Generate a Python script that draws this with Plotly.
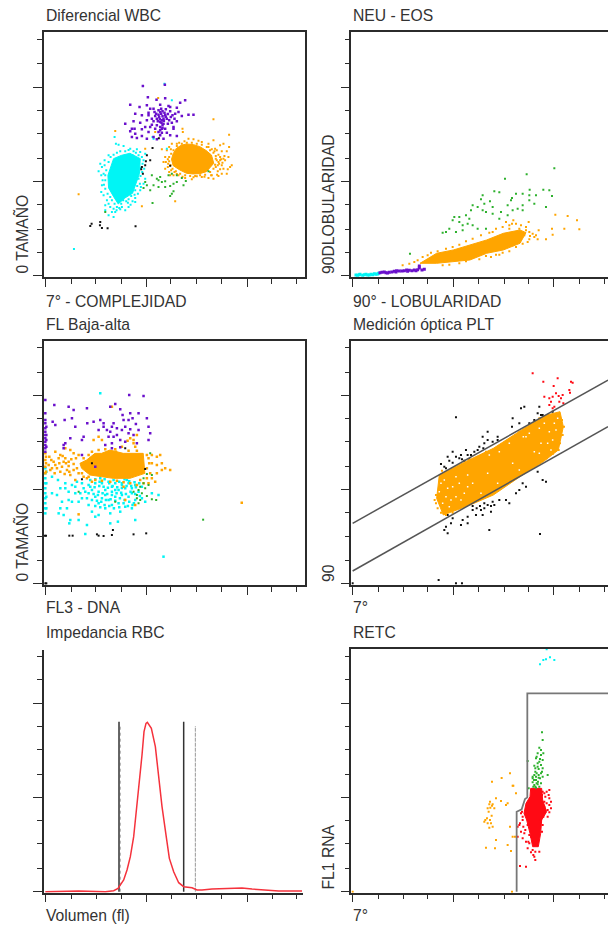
import plotly.graph_objects as go

ORANGE, CYAN, PURPLE, GREEN, RED, BLACK = "#FFA500", "#00F5F5", "#6A10CC", "#2DB02D", "#FF0A14", "#111111"
AXIS = "#2b2b2b"

# tick positions, in channel units
X_TICKS_L = [0, 78, 152, 229, 303, 377, 454, 529, 607, 680, 754]
X_TICKS_R = [0, 79, 152, 225, 304, 377, 455, 529, 602, 680, 754]
X_LONG_L = [0, 303, 607]
X_LONG_R = [0, 304, 602]
Y_TICKS_A = [0, 69, 138, 213, 282, 351, 425, 494, 564, 634, 707]
Y_LONG_A = [0, 282, 564]
Y_TICKS_B = [0, 70, 140, 213, 283, 352, 425, 495, 565, 634, 707]
Y_LONG_B = [0, 283, 565]
Y_TICKS_C = [0, 70, 145, 214, 283, 353, 427, 496, 565, 638, 707]
Y_LONG_C = [0, 283, 565]

# --- Diferencial WBC ---
WBC_ORANGE_CORE = [(379,348),(384,365),(394,381),(408,390),(424,394),(445,392),(464,386),(482,375),(499,361),(506,336),(484,311),(464,305),(444,304),(424,306),(404,316),(384,329)]
WBC_ORANGE = [(505,468),(412,440),(413,430),(100,243),(339,532),(210,433),(330,430),(552,422),(510,380),(525,390),(490,395),(470,400),(445,408),(430,410),
 (372,385),(365,375),(350,378),(380,395),(395,395),(360,355),(355,340),(368,325),(372,310),(385,300),(400,300),(420,292),(440,288),(455,297),(470,295),(490,292),(505,290),(520,298),(500,300),
 (512,350),(520,340),(525,355),(530,330),(540,345),(550,355),(535,320),(548,318),(555,325),(512,325),(518,312),(530,305),(545,305),(560,330),(545,372),(530,372),(515,375),(552,385),(535,395),(505,405),(390,222),(300,380),(290,207),(235,275),
 (372,355),(378,365),(385,375),(395,388),(410,395),(425,398),(440,398),(455,395),(470,392),(485,385),(495,375),(505,368),(512,358),(515,345),(510,332),(505,320),(495,310),(480,302),(465,300),(450,298),(435,298),(420,300),(405,305),(392,312),(382,320),(376,330),(372,342),(368,348),(520,362),(528,348),(522,335),(532,338),(538,358),(516,302),(525,318),(375,300),(362,340),(360,320),(395,304),(415,385),(500,378),(508,372),(518,330),(525,345),(535,350),(498,300),(478,296),(445,294),(412,296),(388,310),(378,315),(369,335),(377,378),(402,398),(418,402),(460,404),(490,385)]
WBC_CYAN_CORE = [(254,366),(285,350),(283,306),(262,246),(239,232),(219,214),(205,236),(190,262),(188,300),(205,350),(229,360)]
WBC_CYAN = [(86,79),(208,415),(212,395),(220,392),(235,388),(255,380),(275,378),(285,370),(190,360),(178,345),(170,325),(160,312),(168,300),(172,285),(170,270),(168,250),(175,240),(185,225),(180,210),(195,205),(205,200),(210,190),(205,175),(190,180),(180,195),(230,205),(240,195),(250,205),(262,222),(270,232),(285,255),(295,275),(300,290),(297,320),(295,345),(300,365),(265,372),(358,575),(380,525),(365,380),(325,410),(322,415),
 (180,300),(183,315),(178,330),(190,340),(196,355),(205,362),(215,368),(225,372),(240,372),(250,376),(262,360),(272,368),(280,360),(290,355),(292,335),(287,322),(291,310),(286,298),(280,290),(284,275),(276,268),(270,255),(268,242),(258,238),(250,228),(243,222),(234,225),(228,215),(222,202),(215,205),(208,215),(200,225),(195,235),(187,245),(180,260),(176,272),(180,285),(175,305),(165,335),(190,215),(200,190),(214,195),(225,198),(278,245),(287,265),(248,218),(256,212),(270,220)]
WBC_PURPLE = [(293,568),(359,572),(308,534),(334,527),(360,531),(420,525),(255,512),(283,505),(305,510),(325,500),(345,512),(370,508),(395,503),(405,518),(270,485),(290,480),(310,488),(330,478),(345,490),(360,480),(375,492),(390,485),(410,478),(430,482),(445,482),(240,455),(265,462),(285,458),(305,465),(320,452),(335,470),(350,465),(365,470),(380,458),(395,462),(345,445),(355,455),(330,440),(310,430),(290,438),(270,425),(255,432),(305,410),(325,415),(345,420),(365,428),(385,440),(352,477),(345,460),(355,470),(340,482),(362,498),(375,505),(348,500),(340,495),(320,470),(300,445),(260,440),(275,412),(290,418),(335,408),(355,410),(375,420),(395,418),(350,440),(335,450),(342,475),(352,450),(348,485),(328,490),(368,455),(377,475),(388,470),(400,490),(260,415),(268,440),(315,500),(310,480),(385,445),(360,440),(340,430),(350,428),
 (344,468),(349,458),(356,464),(362,476),(338,462),(333,485),(352,492),(358,488),(368,484),(325,462),(315,445),(345,435),(352,442),(382,480),(372,465)]
WBC_GREEN = [(325,270),(335,290),(345,295),(360,282),(370,300),(380,305),(395,300),(410,292),(395,280),(385,275),(375,268),(360,265),(350,280),(340,285),(320,300),(305,270),(295,262),(315,255),(300,280),(340,265),(380,245),(375,238),(385,252),(322,217),(422,283),(415,270),(180,190),(490,312)]
WBC_BLACK = [(139,155),(135,148),(165,160),(164,150),(170,142),(187,141),(271,147),(305,360),(302,342),(300,330),(290,325),(288,318),(293,305),(315,345),(322,382),(341,411),(375,329)]

# --- NEU - EOS ---
NEU_ORANGE_CORE = [(202,36),(252,66),(302,76),(352,91),(402,106),(452,126),(502,136),(520,128),(502,96),(452,76),(402,66),(352,46),(302,41),(252,36)]
NEU_ORANGE = [(150,30),(170,35),(185,40),(210,55),(235,68),(255,72),(280,80),(300,85),(320,92),(340,102),(360,110),(385,120),(410,128),(430,140),(450,145),(470,150),(490,155),(505,150),(520,145),(530,130),(545,115),(555,108),(530,108),(510,95),(480,90),(450,68),(430,62),(400,58),(380,48),(340,42),(500,140),(515,120),(520,135),(540,125),(558,135),(550,120),(580,108),(600,122),(598,140),(608,182),(645,178),(673,165),(680,138),(635,140),(478,155),(470,140),(482,165),(528,160),(460,160),(420,130),(490,85),(470,72),(440,62),(415,55),(320,36),(290,32),(270,30),(195,45),(225,60),(500,128),(532,118),(525,100)]
NEU_GREEN = [(605,321),(522,303),(457,290),(531,257),(572,257),(425,252),(440,249),(390,240),(412,222),(385,228),(395,215),(360,210),(375,205),(400,190),(420,205),(445,190),(465,180),(480,195),(495,200),(510,210),(530,225),(545,215),(475,225),(490,245),(510,245),(530,240),(550,240),(590,255),(598,238),(580,205),(320,175),(340,180),(350,170),(320,160),(330,150),(300,165),(290,140),(280,130),(270,128),(310,130),(330,135),(345,155),(360,150),(375,140),(400,140),(305,175),(355,195),(390,195),(172,65),(420,185),(465,210),(478,232),(510,195),(440,170)]
NEU_CYAN = [(10,1),(20,2),(30,0),(40,3),(50,1),(60,2),(70,3),(78,6),(22,3),(15,0),(35,2),(45,1),(55,3),(65,5),(75,4)]
NEU_PURPLE = [(82,8),(95,10),(110,9),(125,12),(140,13),(155,14),(170,15),(185,16),(200,22),(215,18),(165,12),(130,10),(105,7),(190,14),(200,28),(88,9),(100,8),(118,10),(132,14),(148,13),(162,16),(178,14),(195,17),(208,16)]

# --- FL Baja-alta ---
FL_ORANGE_CORE = [(104,360),(124,370),(149,390),(169,390),(194,400),(234,390),(294,390),(299,330),(254,315),(204,315),(169,320),(134,325),(109,345)]
FL_ORANGE = [(0,390),(0,370),(0,350),(2,380),(2,360),(2,335),(0,330),(30,395),(45,385),(60,375),(70,365),(85,390),(100,385),(20,345),(35,345),(50,350),(65,340),(75,325),(90,310),(110,330),(130,320),(150,310),(310,375),(320,360),(335,355),(350,340),(335,330),(320,315),(330,305),(310,300),(285,310),(240,250),(270,235),(235,290),(100,207),(200,530),(247,428),(255,435),(265,430),(275,445),(270,410),(265,420),(212,395),(160,440),(590,242),(60,405),(75,400),(145,430),(170,430),(230,410),
 (12,380),(18,370),(25,365),(40,375),(52,382),(62,360),(78,372),(92,375),(10,355),(30,355),(42,360),(55,365),(70,352),(85,358),(95,345),(15,340),(28,330),(45,335),(58,328),(72,335),(85,340),(100,330),(115,320),(125,315),(140,305),(170,308),(195,305),(215,308),(235,303),(255,300),(275,295),(295,300),(305,315),(315,330),(305,345),(312,360),(305,385),(320,385),(335,380),(345,385),(350,360),(360,345),(375,340),(115,375),(130,385),(140,395),(160,400),(180,402),(210,402),(250,398),(275,398)]
FL_CYAN = [(0,345),(0,330),(0,315),(0,300),(0,285),(0,270),(0,255),(0,240),(0,225),(0,210),(3,335),(3,300),(3,260),(3,225),(20,320),(38,310),(60,300),(45,285),(70,275),(90,290),(110,300),(130,295),(150,300),(170,300),(190,305),(210,300),(230,295),(250,300),(270,295),(290,290),(120,275),(140,280),(160,275),(180,280),(200,275),(220,280),(240,285),(260,270),(280,275),(150,260),(170,255),(190,250),(210,260),(230,265),(250,260),(270,250),(290,255),(125,255),(90,270),(70,250),(50,245),(80,245),(100,245),(130,235),(160,240),(180,225),(200,235),(220,240),(240,230),(260,225),(225,215),(195,210),(160,205),(140,215),(75,190),(100,190),(125,175),(40,210),(55,205),(195,180),(150,200),(270,190),(218,185),(355,80),(165,570),(320,270),(340,265),(300,245),(210,280),(230,300),(180,265),(200,290),(245,310),(165,315),(260,285),(120,148),(72,180),
 (135,310),(150,312),(163,305),(178,312),(192,300),(205,310),(222,305),(238,312),(252,306),(268,303),(282,300),(135,290),(148,288),(162,292),(175,290),(188,287),(202,292),(216,288),(230,286),(244,292),(258,292),(272,288),(130,270),(145,268),(158,265),(172,270),(186,268),(200,265),(214,270),(228,272),(242,268),(256,275),(270,268),(284,262),(140,250),(155,248),(168,245),(182,250),(196,252),(210,248),(224,255),(238,250),(252,245),(266,240),(150,232),(165,228),(178,235),(192,232),(206,225),(222,228),(235,240),(248,232),(262,235),(105,270),(110,255),(115,285),(95,305),(80,295),(60,285),(35,265),(20,270),(45,225),(65,225)]
FL_PURPLE = [(0,550),(0,510),(0,490),(0,480),(0,465),(0,455),(0,445),(0,435),(0,425),(0,415),(0,405),(0,395),(3,470),(3,445),(3,430),(3,410),(252,565),(295,562),(27,535),(70,530),(85,520),(125,525),(80,495),(58,490),(22,485),(30,475),(90,470),(126,480),(145,485),(110,430),(75,435),(115,440),(55,415),(180,415),(165,490),(175,480),(160,460),(195,530),(210,538),(225,522),(232,505),(255,510),(262,495),(280,510),(250,490),(235,490),(205,480),(200,470),(185,460),(175,470),(195,455),(215,465),(230,460),(215,445),(240,470),(255,462),(280,460),(272,478),(265,445),(250,450),(225,430),(205,440),(200,420),(190,440),(240,425),(275,420),(310,470),(315,450),(310,430),(305,495),(200,405),(225,408),(60,420),(150,350),(110,385),(55,405)]
FL_GREEN = [(315,390),(305,328),(295,300),(300,285),(290,270),(275,255),(265,275),(285,250),(280,240),(320,252),(333,250),(210,245),(474,191),(100,275),(320,325),(310,295),(280,280),(295,315),(285,290),(275,265),(305,262)]
FL_BLACK = [(0,0),(3,0),(-2,143),(2,143),(72,143),(82,143),(155,147),(160,143),(175,142),(200,145),(203,160),(265,147),(303,150),(140,360),(110,312),(300,343),(240,405)]

# --- Medición óptica PLT ---
PLT_UPPER_X, PLT_UPPER_Y = [0, 766], [180, 610]
PLT_LOWER_X, PLT_LOWER_Y = [0, 766], [37, 470]
PLT_ORANGE_CORE = [(260,325),(332,362),(422,405),(522,470),(582,505),(622,515),(632,470),(617,400),(572,365),(502,320),(422,265),(352,235),(272,205),(252,255)]
PLT_GAPS = [(265,300),(280,260),(290,230),(275,310),(300,290),(310,260),(295,250),(320,300),(335,270),(345,325),(345,290),(360,300),(410,385),(405,330),(440,395),(385,270),(470,420),(512,440),(530,450),(560,465),(575,480),(590,455),(600,430),(585,420),(610,460),(615,495),(565,420),(545,395),(520,440),(270,240),(285,285),(260,275),(325,250),(310,320),(435,300),(480,360),(500,340),(560,390),(595,400),(605,480)]
PLT_ORANGE = [(262,325),(268,338),(250,265),(246,250),(250,240),(255,225),(265,212),(280,205),(300,212),(320,225),(352,240),(620,505),(628,490),(634,470),(630,445),(622,420),(618,400),(600,388),(582,375),(350,370),(400,395),(500,455),(560,495)]
PLT_BLACK = [(310,498),(300,395),(325,385),(340,400),(275,350),(285,380),(265,358),(280,345),(300,362),(320,375),(335,368),(350,372),(345,385),(365,395),(380,410),(395,420),(390,440),(405,430),(420,425),(435,430),(405,455),(440,410),(480,495),(505,525),(515,530),(555,510),(560,530),(565,505),(478,470),(500,480),(530,480),(545,490),(570,505),(600,515),(405,375),(375,378),(435,440),
 (300,195),(285,205),(295,180),(330,190),(325,175),(345,180),(370,205),(360,220),(385,220),(395,225),(415,215),(425,235),(440,250),(460,250),(470,240),(490,270),(500,280),(520,290),(555,335),(570,310),(580,305),(275,160),(285,150),(280,170),(410,160),(562,148),(258,10),(310,0),(328,0),(0,0),(390,205),(345,200),(420,245),(510,300),(360,232),(372,225),(382,232),(395,240),(405,235),(415,232),(290,368),(310,380),(328,372),(355,385),(375,400),(392,405)]
PLT_RED = [(540,630),(572,605),(615,615),(603,592),(655,605),(660,602),(650,580),(652,572),(630,565),(610,570),(600,560),(590,555),(575,560),(595,545),(590,535),(605,530),(620,545),(625,555),(632,540),(618,562),(600,525)]

# --- Impedancia RBC ---
RBC_X = [0,80,100,180,205,218,225,235,245,255,265,272,282,290,296,302,306,318,330,340,350,362,372,385,400,415,440,455,470,500,550,590,620,660,700,770]
RBC_Y = [0,1,2,0,3,10,22,35,65,105,165,230,325,410,480,505,508,490,435,340,255,170,100,60,27,15,12,5,5,8,9,11,8,5,2,2]
RBC_LOW_X, RBC_HIGH_X, RBC_DASH_X = 221, 415, 450
RBC_LOW_DASH_X = 225
RBC_GATE_TOP, RBC_DASH_TOP = 510, 497

# --- RETC ---
RETC_GATE_X = [492,492,507,517,524,524,766]
RETC_GATE_Y = [0,240,247,278,283,595,595]
RETC_RED_CORE = [(534,310),(567,310),(570,275),(582,240),(567,215),(564,175),(557,135),(540,135),(532,175),(522,215),(514,235),(520,265),(532,285)]
RETC_RED = [(500,200),(510,215),(505,180),(495,165),(510,160),(530,170),(520,150),(525,130),(540,125),(545,105),(548,95),(542,110),(535,118),(502,77),(520,75),(570,300),(582,300),(590,305),(578,285),(590,280),(575,270),(595,250),(590,238),(575,240),(585,225),(565,215),(568,180),(560,120),(508,240),(495,195),(590,260),(582,265),(502,205),(512,195),(518,185),(525,200),(515,175),(527,150),(535,165),(568,290),(575,295),(588,290),(595,270),(572,225),(570,200),(575,255),(585,245),(510,225),(505,235),(530,145),(548,120)]
RETC_GREEN = [(568,478),(570,455),(560,432),(565,425),(555,415),(572,415),(550,400),(562,398),(570,395),(555,385),(565,380),(548,370),(558,368),(570,370),(545,350),(552,355),(565,355),(540,340),(550,335),(562,340),(570,345),(540,328),(552,325),(565,325),(548,315),(560,315),(525,392),(585,350),(528,310),(545,320),(555,322),(550,345),(558,350),(548,360),(555,375),(560,390),(552,405),(565,410),(540,345),(544,335),(556,330),(545,378),(568,360),(558,342),(550,312),(542,315)]
RETC_ORANGE = [(418,330),(472,355),(447,341),(482,318),(480,318),(490,295),(465,265),(445,272),(460,260),(430,280),(412,270),(418,258),(405,250),(425,250),(408,240),(398,215),(395,210),(412,215),(420,195),(410,192),(417,228),(472,195),(487,165),(430,155),(400,132),(427,130),(465,140),(475,122),(480,165),(0,0),(478,0),(413,252),(410,262),(420,262),(415,205),(405,205),(403,220)]
RETC_CYAN = [(582,727),(572,695),(592,703),(605,695),(562,682),(580,697)]


def pts(pairs):
    return [p[0] for p in pairs], [p[1] for p in pairs]


PANELS = [
    # n, x px, y px, x range, y range, x ticks, x long, y ticks, y long, closes right
    (1, (44, 305), (32.3, 277.3), (-4, 780), (-6, 729), X_TICKS_L, X_LONG_L, Y_TICKS_A, Y_LONG_A, True),
    (2, (351.3, 608), (32.3, 277.3), (-4, 766), (-6, 729), X_TICKS_R, X_LONG_R, Y_TICKS_A, Y_LONG_A, False),
    (3, (44, 305), (340.7, 585), (-4, 780), (-5, 728), X_TICKS_L, X_LONG_L, Y_TICKS_B, Y_LONG_B, True),
    (4, (351.3, 608), (340.7, 585), (-4, 766), (-5, 728), X_TICKS_R, X_LONG_R, Y_TICKS_B, Y_LONG_B, False),
    (5, (44, 302.7), (650, 892.7), (-4, 772), (-3, 725), X_TICKS_L, X_LONG_L, Y_TICKS_C, Y_LONG_C, None),
    (6, (351.3, 608), (648.7, 892.7), (-4, 766), (-3, 729), X_TICKS_R, X_LONG_R, Y_TICKS_C, Y_LONG_C, False),
]

W, H = 608, 926
fig = go.Figure()


def dots(n, pairs, color, size=2):
    x, y = pts(pairs)
    fig.add_trace(go.Scatter(x=x, y=y, mode="markers", xaxis=f"x{n}", yaxis=f"y{n}", showlegend=False,
                             marker=dict(color=color, size=size, symbol="square", line=dict(width=0))))


def core(n, pairs, color):
    x, y = pts(pairs + pairs[:1])
    fig.add_trace(go.Scatter(x=x, y=y, mode="lines", fill="toself", fillcolor=color, xaxis=f"x{n}", yaxis=f"y{n}",
                             showlegend=False, line=dict(color=color, width=1)))


def line(n, x, y, color, width=1.5, dash="solid"):
    fig.add_trace(go.Scatter(x=x, y=y, mode="lines", xaxis=f"x{n}", yaxis=f"y{n}", showlegend=False,
                             line=dict(color=color, width=width, dash=dash)))


# Panel 1
core(1, WBC_ORANGE_CORE, ORANGE); dots(1, WBC_ORANGE, ORANGE)
core(1, WBC_CYAN_CORE, CYAN); dots(1, WBC_CYAN, CYAN)
dots(1, WBC_PURPLE, PURPLE, 2.5); dots(1, WBC_GREEN, GREEN); dots(1, WBC_BLACK, BLACK)
# Panel 2
core(2, NEU_ORANGE_CORE, ORANGE); dots(2, NEU_ORANGE, ORANGE)
dots(2, NEU_GREEN, GREEN); dots(2, NEU_CYAN, CYAN, 3); dots(2, NEU_PURPLE, PURPLE, 3)
# Panel 3
dots(3, FL_CYAN, CYAN, 2.5); core(3, FL_ORANGE_CORE, ORANGE); dots(3, FL_ORANGE, ORANGE, 2.5)
dots(3, FL_PURPLE, PURPLE, 2.5); dots(3, FL_GREEN, GREEN); dots(3, FL_BLACK, BLACK)
# Panel 4
dots(4, PLT_BLACK, BLACK); core(4, PLT_ORANGE_CORE, ORANGE); dots(4, PLT_ORANGE, ORANGE, 2)
dots(4, PLT_GAPS, "white", 1.5); dots(4, PLT_RED, RED)
line(4, PLT_UPPER_X, PLT_UPPER_Y, "#555555"); line(4, PLT_LOWER_X, PLT_LOWER_Y, "#555555")
# Panel 5
line(5, [RBC_LOW_DASH_X] * 2, [0, RBC_DASH_TOP], "#aaaaaa", 1, "dot")
line(5, [RBC_LOW_X] * 2, [0, RBC_GATE_TOP], "#333333")
line(5, [RBC_HIGH_X] * 2, [0, RBC_GATE_TOP], "#333333")
line(5, [RBC_DASH_X] * 2, [0, RBC_DASH_TOP], "#999999", 1, "4px,1px")
line(5, RBC_X, RBC_Y, "#F5323C", 1.5)
# Panel 6
dots(6, RETC_ORANGE, ORANGE); core(6, RETC_RED_CORE, RED); dots(6, RETC_RED, RED)
dots(6, RETC_GREEN, GREEN); dots(6, RETC_CYAN, CYAN)
line(6, RETC_GATE_X, RETC_GATE_Y, "#777777", 1.8)

layout = dict(width=W, height=H, autosize=False, margin=dict(l=0, r=0, t=0, b=0, pad=0),
              paper_bgcolor="white", plot_bgcolor="white", showlegend=False)
for n, xp, yp, xr, yr, xt, xl, yt, yl, closed in PANELS:
    common = dict(showgrid=False, zeroline=False, showline=True, linecolor=AXIS, linewidth=1.5, showticklabels=False,
                  ticks="outside", tickwidth=1.2, tickcolor=AXIS, tickmode="array")
    layout[f"xaxis{n}"] = dict(common, domain=[xp[0] / W, xp[1] / W], range=list(xr), anchor=f"y{n}",
                               tickvals=xl, ticklen=8, mirror=closed is not None,
                               minor=dict(tickmode="array", tickvals=[t for t in xt if t not in xl], ticks="outside",
                                          ticklen=5, tickwidth=1.2, tickcolor=AXIS, showgrid=False))
    layout[f"yaxis{n}"] = dict(common, domain=[1 - yp[1] / H, 1 - yp[0] / H], range=list(yr), anchor=f"x{n}",
                               tickvals=yl, ticklen=9, mirror=bool(closed),
                               minor=dict(tickmode="array", tickvals=[t for t in yt if t not in yl], ticks="outside",
                                          ticklen=5, tickwidth=1.2, tickcolor=AXIS, showgrid=False))
fig.update_layout(**layout)

LABELS = [
    ("Diferencial WBC", 46, 16), ("7° - COMPLEJIDAD", 46, 301), ("NEU - EOS", 353, 16), ("90° - LOBULARIDAD", 353, 301),
    ("FL Baja-alta", 46, 324), ("FL3 - DNA", 46, 607), ("Medición óptica PLT", 353, 324), ("7°", 353, 607),
    ("Impedancia RBC", 46, 632), ("Volumen (fl)", 46, 915), ("RETC", 353, 632), ("7°", 353, 915),
]
ROT_LABELS = [("0 TAMAÑO", 21, 275), ("90DLOBULARIDAD", 328, 275), ("0 TAMAÑO", 21, 583), ("90", 328, 583), ("FL1 RNA", 328, 891)]
FONT = dict(family="Liberation Sans", size=15.7, color="#333333")
for t, x, y in LABELS:
    fig.add_annotation(text=t, x=x / W, y=1 - y / H, xref="paper", yref="paper", xanchor="left", yanchor="middle",
                       showarrow=False, font=FONT, borderpad=0, xshift=-1)
for t, x, y in ROT_LABELS:
    fig.add_annotation(text=t, x=x / W, y=1 - y / H, xref="paper", yref="paper", xanchor="center", yanchor="bottom",
                       textangle=-90, showarrow=False, font=FONT, borderpad=0)

fig.write_html("out.html", config=dict(displayModeBar=False), post_script="document.body.style.margin='0';")
